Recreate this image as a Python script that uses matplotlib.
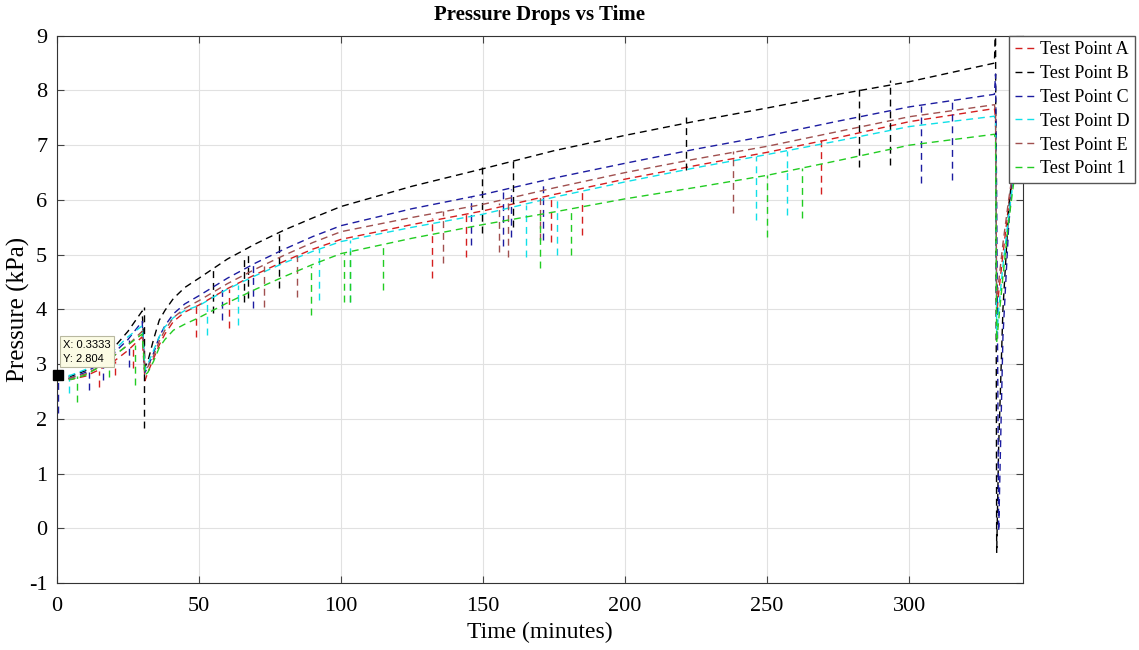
import matplotlib
matplotlib.use("Agg")
import matplotlib.pyplot as plt
import numpy as np

# Data
names = ["Test Point A", "Test Point B", "Test Point C", "Test Point D", "Test Point E", "Test Point 1"]
colors = ["#d41f1f", "#000000", "#1c1ca0", "#10e0e8", "#a0504f", "#22cc22"]

t_main = [0, 5, 10, 15, 20, 25, 30, 31, 32, 34, 36, 38, 41, 45, 50, 60, 70, 80, 90, 100,
          125, 150, 175, 200, 225, 250, 275, 300, 330]
t_tail = [330.4, 330.8, 331.5, 333, 335, 337]

p_a = [2.8, 2.72, 2.78, 2.9, 3.05, 3.25, 3.5, 2.7, 2.85, 3.1, 3.35, 3.55, 3.78, 3.95, 4.08, 4.38, 4.64, 4.88, 5.1, 5.28,
       5.55, 5.8, 6.1, 6.38, 6.63, 6.87, 7.14, 7.43, 7.67]
p_b = [2.75, 2.78, 2.88, 3.05, 3.3, 3.6, 3.97, 2.95, 3.05, 3.45, 3.8, 3.98, 4.2, 4.4, 4.57, 4.92, 5.2, 5.45, 5.67, 5.88,
       6.25, 6.57, 6.9, 7.18, 7.44, 7.68, 7.93, 8.16, 8.5]
p_c = [2.72, 2.75, 2.85, 3.0, 3.2, 3.45, 3.78, 2.85, 2.95, 3.2, 3.5, 3.7, 3.92, 4.1, 4.25, 4.57, 4.85, 5.1, 5.33, 5.53,
       5.84, 6.1, 6.4, 6.67, 6.93, 7.17, 7.44, 7.70, 7.93]
p_d = [2.75, 2.8, 2.9, 3.05, 3.25, 3.5, 3.7, 2.9, 3.0, 3.25, 3.5, 3.68, 3.85, 3.98, 4.07, 4.37, 4.62, 4.85, 5.06, 5.24,
       5.5, 5.74, 6.05, 6.33, 6.59, 6.83, 7.08, 7.34, 7.53]
p_e = [2.72, 2.75, 2.82, 2.95, 3.15, 3.35, 3.6, 2.9, 2.95, 3.15, 3.42, 3.62, 3.85, 4.02, 4.16, 4.47, 4.74, 4.99, 5.22, 5.42,
       5.68, 5.92, 6.22, 6.5, 6.75, 6.98, 7.25, 7.52, 7.74]
p_1 = [2.7, 2.72, 2.8, 2.95, 3.15, 3.35, 3.55, 2.8, 2.85, 3.05, 3.3, 3.45, 3.62, 3.73, 3.85, 4.12, 4.37, 4.6, 4.82, 5.02,
       5.3, 5.55, 5.78, 6.02, 6.23, 6.45, 6.72, 7.0, 7.2]

tail_a = [7.5, 3.9, 4.3, 5.0, 5.9, 6.6]
tail_b = [9.2, -0.45, 1.5, 4.0, 5.8, 6.9]
tail_c = [8.3, 6.0, -0.05, 3.5, 5.5, 6.8]
tail_d = [7.4, 3.5, 4.0, 4.8, 5.7, 6.5]
tail_e = [7.6, 4.2, 4.5, 5.2, 6.0, 6.7]
tail_1 = [7.1, 3.4, 3.8, 4.6, 5.6, 6.4]

# sudden drops: time, value before the drop, lowest value
spk_t_a = [14.8, 20.4, 26.7, 49, 60.5, 132, 144, 174, 185, 269]
spk_top_a = [2.88, 3.05, 3.3, 4.06, 4.38, 5.67, 5.75, 6.08, 6.2, 7.1]
spk_bot_a = [2.58, 2.8, 2.93, 3.5, 3.66, 4.57, 4.96, 5.24, 5.36, 6.1]

spk_t_b = [30.8, 54.9, 65.8, 67.2, 78, 149.5, 160.7, 221.6, 282.5, 293.4]
spk_top_b = [4.05, 4.78, 4.95, 5.0, 5.4, 6.65, 6.75, 7.52, 8.05, 8.2]
spk_bot_b = [1.83, 3.94, 4.14, 4.2, 4.39, 5.4, 5.5, 6.55, 6.6, 6.64]

spk_t_c = [0.3, 11.3, 16.2, 25.3, 58, 69, 145.6, 157, 159.7, 171, 304, 315]
spk_top_c = [2.8, 2.85, 3.05, 3.45, 4.45, 4.85, 6.05, 6.15, 6.2, 6.3, 7.72, 7.8]
spk_bot_c = [2.1, 2.53, 2.71, 2.95, 3.81, 4.03, 5.18, 5.15, 5.33, 5.27, 6.31, 6.37]

spk_t_d = [4.2, 52.7, 63.7, 92.2, 103, 165, 176, 246, 257]
spk_top_d = [2.8, 4.15, 4.45, 5.1, 5.27, 5.9, 6.0, 6.8, 6.9]
spk_bot_d = [2.47, 3.53, 3.72, 4.17, 4.14, 4.96, 5.0, 5.64, 5.73]

spk_t_e = [72.8, 84.4, 136, 155.5, 158.6, 170, 238]
spk_top_e = [4.8, 5.05, 5.8, 5.95, 6.0, 6.1, 6.9]
spk_bot_e = [4.05, 4.23, 4.85, 5.05, 4.96, 5.27, 5.76]

spk_t_1 = [7, 18.3, 27.4, 89.3, 101, 103, 114.7, 170, 181, 250, 262.4]
spk_top_1 = [2.78, 3.05, 3.35, 4.8, 5.03, 5.07, 5.2, 5.7, 5.8, 6.45, 6.58]
spk_bot_1 = [2.31, 2.77, 2.62, 3.9, 4.14, 4.14, 4.36, 4.76, 5.0, 5.33, 5.67]

tip_x, tip_y = 0.3333, 2.804

series = [(p_a, tail_a, spk_t_a, spk_top_a, spk_bot_a),
          (p_b, tail_b, spk_t_b, spk_top_b, spk_bot_b),
          (p_c, tail_c, spk_t_c, spk_top_c, spk_bot_c),
          (p_d, tail_d, spk_t_d, spk_top_d, spk_bot_d),
          (p_e, tail_e, spk_t_e, spk_top_e, spk_bot_e),
          (p_1, tail_1, spk_t_1, spk_top_1, spk_bot_1)]

plt.rcParams['font.family'] = ['Liberation Serif', 'DejaVu Serif']
plt.rcParams['axes.unicode_minus'] = False

fig = plt.figure(figsize=(11.39, 6.5), dpi=100)
ax = fig.add_axes([0.050, 0.103, 0.848, 0.842])

dash = (0, (5, 3.5))
handles = []
for name, col, (vals, tail, st, stop, sbot) in zip(names, colors, series):
    t = t_main + t_tail
    y = vals + tail
    ln, = ax.plot(t, y, color=col, lw=1.0, linestyle=dash, label=name)
    ax.vlines(st, sbot, stop, colors=col, lw=1.0, linestyles=[dash])
    handles.append(ln)

# data tip
ax.plot([tip_x], [tip_y], marker='s', color='black', ms=7, zorder=6, clip_on=False)
ax.text(2.2, 3.23, "X: %.4f\nY: %.3f" % (tip_x, tip_y), fontsize=8, family='Liberation Sans',
        va='center', ha='left', linespacing=1.5, zorder=7,
        bbox=dict(boxstyle='square,pad=0.3', fc='#fbfbe4', ec='#b8b8a0', lw=0.8))

ax.set_xlim(0, 340)
ax.set_ylim(-1, 9)
ax.set_xticks([0, 50, 100, 150, 200, 250, 300])
ax.set_yticks(range(-1, 10))
ax.grid(True, color='#e1e1e1', lw=0.8)
ax.set_axisbelow(True)
ax.tick_params(direction='in', top=True, right=True, length=5, width=0.8,
               labelsize=16, color='#444444')
ax.tick_params(axis='x', pad=10)
ax.tick_params(axis='y', pad=7)
for s in ax.spines.values():
    s.set_color('#333333')
    s.set_linewidth(0.8)

ax.set_title("Pressure Drops vs Time", fontsize=15, fontweight='bold', pad=11)
ax.set_xlabel("Time (minutes)", fontsize=17, labelpad=4)
ax.set_ylabel("Pressure (kPa)", fontsize=18, labelpad=-1)

fig.legend(handles=handles, loc='upper left', bbox_to_anchor=(0.886, 0.945),
           fontsize=13, frameon=True, fancybox=False, edgecolor='#555555', framealpha=1,
           handlelength=1.1, handletextpad=0.3, borderpad=0.3, labelspacing=0.38,
           borderaxespad=0)

fig.savefig("out.png", dpi=100)
